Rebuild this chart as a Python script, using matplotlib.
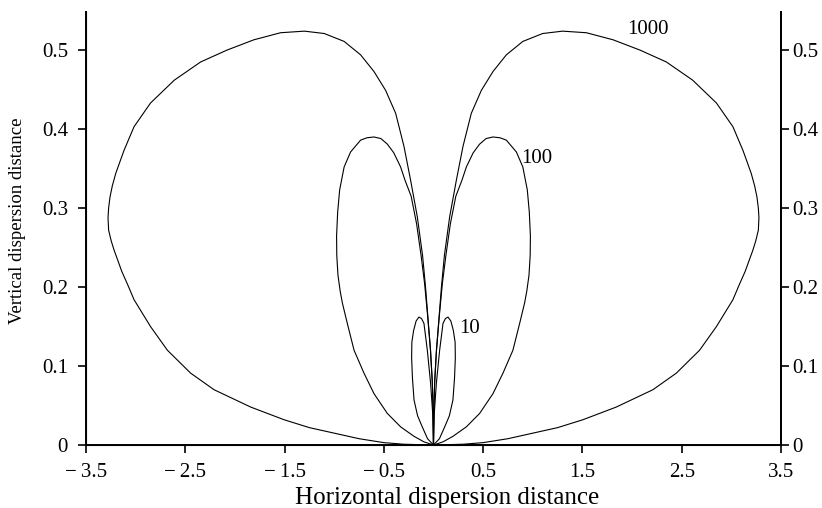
#!/usr/bin/env python3
"""
Dispersion envelopes (vertical vs horizontal dispersion distance) for 10, 100, 1000.
Right-hand lobes are read off the original figure, left-hand lobes are their mirror.
"""

import matplotlib
matplotlib.use("Agg")
import matplotlib.pyplot as plt
import numpy as np

plt.rcParams["font.family"] = ["Liberation Serif", "DejaVu Serif"]

# right lobe of each curve, closed loop starting and ending at the origin
x_1000 = [0.0, 0.003, 0.012, 0.03, 0.055, 0.08, 0.11, 0.163, 0.23, 0.297, 0.381,
          0.482, 0.60, 0.734, 0.90, 1.10, 1.30, 1.54, 1.81, 2.08, 2.345, 2.61,
          2.85, 3.016, 3.117, 3.16, 3.20, 3.235, 3.258, 3.272, 3.278, 3.272, 3.245,
          3.215, 3.18, 3.14, 3.08, 3.016, 2.85, 2.68, 2.446, 2.21, 1.84, 1.505,
          1.25, 1.00, 0.75, 0.50, 0.30, 0.0]
y_1000 = [0.0, 0.04, 0.08, 0.12, 0.16, 0.20, 0.24, 0.289, 0.335, 0.378, 0.420,
          0.449, 0.473, 0.494, 0.511, 0.521, 0.524, 0.522, 0.513, 0.500, 0.485, 0.462,
          0.433, 0.403, 0.373, 0.358, 0.344, 0.328, 0.314, 0.300, 0.288, 0.272, 0.258,
          0.246, 0.234, 0.220, 0.203, 0.184, 0.150, 0.120, 0.091, 0.070, 0.048, 0.032,
          0.022, 0.015, 0.008, 0.003, 0.001, 0.0]

x_100 = [0.0, 0.003, 0.012, 0.03, 0.06, 0.09, 0.125, 0.17, 0.225, 0.286, 0.331,
         0.40, 0.465, 0.53, 0.599, 0.67, 0.734, 0.835, 0.90, 0.945, 0.965, 0.976,
         0.974, 0.962, 0.94, 0.918, 0.868, 0.80, 0.70, 0.599, 0.465, 0.331, 0.196,
         0.096, 0.0]
y_100 = [0.0, 0.04, 0.08, 0.12, 0.165, 0.205, 0.24, 0.28, 0.315, 0.335, 0.352,
         0.370, 0.381, 0.388, 0.390, 0.389, 0.386, 0.371, 0.352, 0.323, 0.295, 0.265,
         0.240, 0.215, 0.195, 0.180, 0.154, 0.120, 0.091, 0.065, 0.040, 0.023, 0.011,
         0.004, 0.0]

x_10 = [0.0, 0.008, 0.029, 0.062, 0.096, 0.12, 0.146, 0.175, 0.20, 0.218, 0.22,
        0.212, 0.196, 0.16, 0.113, 0.06, 0.0]
y_10 = [0.0, 0.04, 0.078, 0.12, 0.154, 0.160, 0.162, 0.157, 0.145, 0.13, 0.11,
        0.085, 0.057, 0.037, 0.023, 0.008, 0.0]

curve_labels = ["1000", "100", "10"]
label_x = [2.157, 1.036, 0.361]
label_y = [0.526, 0.363, 0.148]

x_ticks = [-3.5, -2.5, -1.5, -0.5, 0.5, 1.5, 2.5, 3.5]
x_tick_labels = ["\u2212\u20093.5", "\u2212\u20092.5", "\u2212\u20091.5", "\u2212\u20090.5",
                 "0.5", "1.5", "2.5", "3.5"]
y_ticks = [0, 0.1, 0.2, 0.3, 0.4, 0.5]
y_tick_labels = ["0", "0.1", "0.2", "0.3", "0.4", "0.5"]

fig = plt.figure(figsize=(8.22, 5.08), dpi=100)
ax = fig.add_axes([0.1046, 0.124, 0.8455, 0.852])

for xs, ys in [(x_1000, y_1000), (x_100, y_100), (x_10, y_10)]:
    xs = np.array(xs)
    ax.plot(xs, ys, color="black", linewidth=0.8)
    ax.plot(-xs, ys, color="black", linewidth=0.8)

for txt, lx, ly in zip(curve_labels, label_x, label_y):
    ax.text(lx, ly, txt, fontsize=15, ha="center", va="center")

ax.set_xlim(-3.5, 3.5)
ax.set_ylim(0, 0.548)
ax.set_xticks(x_ticks)
ax.set_xticklabels(x_tick_labels)
ax.set_yticks(y_ticks)
ax.set_yticklabels(y_tick_labels)

ax.spines["top"].set_visible(False)
for s in ["left", "right", "bottom"]:
    ax.spines[s].set_linewidth(1.4)
ax.tick_params(axis="both", direction="out", length=6, width=1.2, labelsize=15)
ax.tick_params(axis="x", pad=7)
ax.tick_params(axis="y", pad=7)

# right-hand axis repeats the vertical scale
ax2 = ax.twinx()
ax2.set_ylim(ax.get_ylim())
ax2.set_yticks(y_ticks)
ax2.set_yticklabels(y_tick_labels)
ax2.spines["top"].set_visible(False)
ax2.spines["right"].set_linewidth(1.4)
ax2.tick_params(axis="y", direction="out", length=6, width=1.2, labelsize=15, pad=2)

ax.set_xlabel("Horizontal dispersion distance", fontsize=18, va="top")
ax.xaxis.set_label_coords(0.52, -0.097)
ax.set_ylabel("Vertical dispersion distance", fontsize=13.5, va="center")
ax.yaxis.set_label_coords(-0.099, 0.517)

fig.savefig("out.png", dpi=100)
plt.close(fig)
